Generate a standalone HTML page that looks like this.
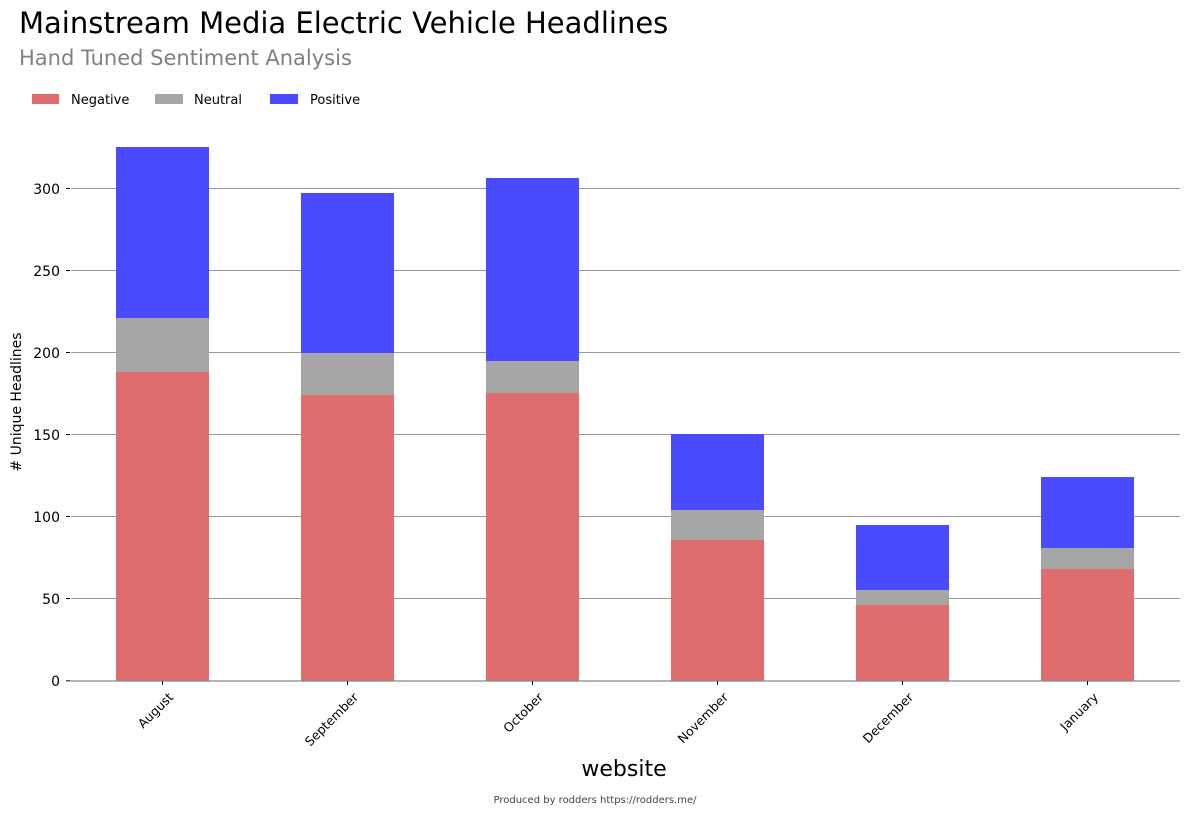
<!DOCTYPE html>
<html><head><meta charset="utf-8"><style>
body{margin:0;background:#fff;}
svg text{font-family:"DejaVu Sans","Liberation Sans",sans-serif;}
</style></head><body>
<svg width="1189" height="816" viewBox="0 0 1189 816" xmlns="http://www.w3.org/2000/svg">
<text x="19" y="33" font-size="29" fill="#000">Mainstream Media Electric Vehicle Headlines</text>
<text x="19" y="65" font-size="21" fill="#808080">Hand Tuned Sentiment Analysis</text>
<rect x="32" y="94" width="27" height="10" fill="#e06d6d"/>
<text x="71" y="104" font-size="13">Negative</text>
<rect x="155" y="94" width="28" height="10" fill="#a6a6a6"/>
<text x="194" y="104" font-size="13">Neutral</text>
<rect x="270" y="94" width="28" height="10" fill="#4a4aff"/>
<text x="310" y="104" font-size="13">Positive</text>
<g stroke="#999" stroke-width="1">
<line x1="71" y1="188.5" x2="1180" y2="188.5"/>
<line x1="71" y1="270.5" x2="1180" y2="270.5"/>
<line x1="71" y1="352.5" x2="1180" y2="352.5"/>
<line x1="71" y1="434.5" x2="1180" y2="434.5"/>
<line x1="71" y1="516.5" x2="1180" y2="516.5"/>
<line x1="71" y1="598.5" x2="1180" y2="598.5"/>
</g>
<g stroke="#000" stroke-width="1">
<line x1="66" y1="188.5" x2="70" y2="188.5"/><line x1="66" y1="270.5" x2="70" y2="270.5"/>
<line x1="66" y1="352.5" x2="70" y2="352.5"/><line x1="66" y1="434.5" x2="70" y2="434.5"/>
<line x1="66" y1="516.5" x2="70" y2="516.5"/><line x1="66" y1="598.5" x2="70" y2="598.5"/>
<line x1="66" y1="680.5" x2="70" y2="680.5"/>
</g>
<g font-size="14" text-anchor="end">
<text x="60" y="194">300</text><text x="60" y="276">250</text><text x="60" y="358">200</text>
<text x="60" y="440">150</text><text x="60" y="522">100</text><text x="60" y="604">50</text><text x="60" y="686">0</text>
</g>
<text transform="translate(21,402) rotate(-90)" font-size="14" text-anchor="middle"># Unique Headlines</text>
<g>
<rect x="116" y="372" width="93" height="309" fill="#e06d6d"/><rect x="116" y="318" width="93" height="54" fill="#a6a6a6"/><rect x="116" y="147" width="93" height="171" fill="#4a4aff"/>
<rect x="301" y="395" width="93" height="286" fill="#e06d6d"/><rect x="301" y="353" width="93" height="42" fill="#a6a6a6"/><rect x="301" y="193" width="93" height="160" fill="#4a4aff"/>
<rect x="486" y="393" width="93" height="288" fill="#e06d6d"/><rect x="486" y="361" width="93" height="32" fill="#a6a6a6"/><rect x="486" y="178" width="93" height="183" fill="#4a4aff"/>
<rect x="671" y="540" width="93" height="141" fill="#e06d6d"/><rect x="671" y="510" width="93" height="30" fill="#a6a6a6"/><rect x="671" y="434" width="93" height="76" fill="#4a4aff"/>
<rect x="856" y="605" width="93" height="76" fill="#e06d6d"/><rect x="856" y="590" width="93" height="15" fill="#a6a6a6"/><rect x="856" y="525" width="93" height="65" fill="#4a4aff"/>
<rect x="1041" y="569" width="93" height="112" fill="#e06d6d"/><rect x="1041" y="548" width="93" height="21" fill="#a6a6a6"/><rect x="1041" y="477" width="93" height="71" fill="#4a4aff"/>
</g>
<line x1="66" y1="681" x2="1180" y2="681" stroke="#888" stroke-width="1.2"/>
<g stroke="#000"><line x1="162.5" y1="681" x2="162.5" y2="685"/><line x1="347.5" y1="681" x2="347.5" y2="685"/><line x1="532.5" y1="681" x2="532.5" y2="685"/><line x1="717.5" y1="681" x2="717.5" y2="685"/><line x1="902.5" y1="681" x2="902.5" y2="685"/><line x1="1087.5" y1="681" x2="1087.5" y2="685"/></g>
<g font-size="12.5" text-anchor="end">
<text transform="translate(174,698) rotate(-45)">August</text>
<text transform="translate(359,698) rotate(-45)">September</text>
<text transform="translate(544,698) rotate(-45)">October</text>
<text transform="translate(729,698) rotate(-45)">November</text>
<text transform="translate(914,698) rotate(-45)">December</text>
<text transform="translate(1099,698) rotate(-45)">January</text>
</g>
<text x="624" y="776" font-size="22" text-anchor="middle">website</text>
<text x="595" y="803" font-size="10" fill="#444" text-anchor="middle">Produced by rodders https://rodders.me/</text>
</svg>
</body></html>
